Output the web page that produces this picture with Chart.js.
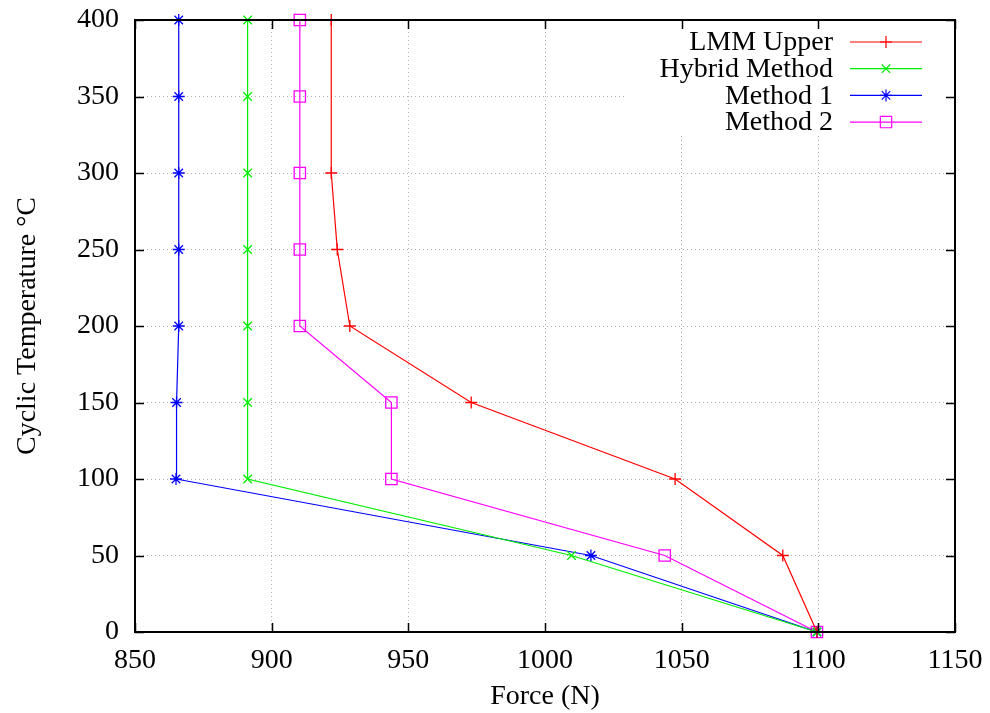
<!DOCTYPE html>
<html>
<head>
<meta charset="utf-8">
<script src="https://cdn.jsdelivr.net/npm/chart.js@4/dist/chart.umd.min.js"></script>
<style>
  html, body { margin: 0; padding: 0; background: #fff; }
  #wrap { width: 990px; height: 713px; }
</style>
</head>
<body>
<div id="wrap"><canvas id="myChart" width="990" height="713"></canvas></div>
<script>
// values
var lmmTemps = [0, 50, 100, 150, 200, 250, 300, 400];
var lmmForce = [1099.5, 1087, 1047.6, 973, 928.6, 924, 921.8, 921.8];

var temps = [0, 50, 100, 150, 200, 250, 300, 350, 400];
var hybridForce = [1099.5, 1009.7, 891.2, 891.2, 891.2, 891.2, 891.2, 891.2, 891.2];
var method1Force = [1099.5, 1016.8, 865, 865.2, 866, 866, 866, 866, 866];
var method2Force = [1099.5, 1043.8, 943.8, 943.8, 910.3, 910.3, 910.3, 910.3, 910.3];

var xTicks = [850, 900, 950, 1000, 1050, 1100, 1150];
var yTicks = [0, 50, 100, 150, 200, 250, 300, 350, 400];

var FONT = '"Liberation Serif", "DejaVu Serif", serif';

function toPoints(xs, ys) {
    return xs.map(function (x, i) { return { x: x, y: ys[i] }; });
}

function series(label, xs, ys, color, style) {
    return {
        label: label,
        data: toPoints(xs, ys),
        showLine: true,
        borderColor: color,
        backgroundColor: 'rgba(0,0,0,0)',
        borderWidth: 1.2,
        pointStyle: style,
        pointRadius: style === 'rect' ? 8 : 6,
        pointBorderColor: color,
        pointBorderWidth: 1.3,
        pointBackgroundColor: 'rgba(0,0,0,0)',
        clip: false
    };
}

var datasets = [
    series('LMM Upper', lmmForce, lmmTemps, '#ff0000', 'cross'),
    series('Hybrid Method', hybridForce, temps, '#00ee00', 'crossRot'),
    series('Method 1', method1Force, temps, '#0000ff', 'star'),
    series('Method 2', method2Force, temps, '#ff00ff', 'rect')
];

// gnuplot style key inside top right, white box over grid
var keyPlugin = {
    id: 'key',
    beforeDatasetsDraw: function (chart) {
        var c = chart.ctx;
        var area = chart.chartArea;
        c.save();
        c.fillStyle = '#fff';
        c.fillRect(624, area.top + 1, area.right - 625, 114);
        c.font = '28px ' + FONT;
        c.textAlign = 'right';
        c.textBaseline = 'middle';
        chart.data.datasets.forEach(function (ds, i) {
            var y = 42 + i * 26.7;
            c.fillStyle = '#000';
            c.fillText(ds.label, 833, y + 1);
            c.strokeStyle = ds.borderColor;
            c.lineWidth = 1.2;
            c.beginPath();
            c.moveTo(850, y);
            c.lineTo(922, y);
            c.stroke();
            c.fillStyle = 'rgba(0,0,0,0)';
            Chart.helpers.drawPoint(c, {
                pointStyle: ds.pointStyle,
                radius: ds.pointRadius,
                borderWidth: 1.3,
                rotation: 0
            }, 886, y);
        });
        c.restore();
    },
    afterDraw: function (chart) {
        var c = chart.ctx;
        var a = chart.chartArea;
        var xs = chart.scales.x, ys = chart.scales.y;
        c.save();
        c.strokeStyle = '#000';
        c.lineWidth = 1.5;
        c.beginPath();
        xTicks.forEach(function (v) {
            var px = Math.round(xs.getPixelForValue(v)) + 0.5;
            c.moveTo(px, a.bottom); c.lineTo(px, a.bottom - 9);
            c.moveTo(px, a.top); c.lineTo(px, a.top + 9);
        });
        yTicks.forEach(function (v) {
            var py = Math.round(ys.getPixelForValue(v)) + 0.5;
            c.moveTo(a.left, py); c.lineTo(a.left + 9, py);
            c.moveTo(a.right, py); c.lineTo(a.right - 9, py);
        });
        c.stroke();
        c.lineWidth = 2;
        c.strokeRect(a.left, a.top, a.right - a.left, a.bottom - a.top);
        c.restore();
    }
};

function gridColor(ends) {
    return function (c) {
        return (c.tick && ends.indexOf(c.tick.value) >= 0) ? 'rgba(0,0,0,0)' : '#b0b0b0';
    };
}

var ctx = document.getElementById('myChart');
var config = {
    type: 'scatter',
    data: { datasets: datasets },
    options: {
        responsive: false,
        animation: false,
        layout: { padding: { top: 20, right: 35, left: 0, bottom: 0 } },
        plugins: {
            legend: { display: false },
            tooltip: { enabled: false }
        },
        scales: {
            x: {
                type: 'linear',
                min: 850,
                max: 1150,
                afterFit: function (s) { s.height = 81; s.paddingLeft = 0; s.paddingRight = 0; },
                afterBuildTicks: function (s) { s.ticks = xTicks.map(function (v) { return { value: v }; }); },
                grid: { color: gridColor([850, 1150]), lineWidth: 1, drawTicks: false },
                border: { display: false, dash: [1, 3] },
                ticks: {
                    color: '#000', font: { family: FONT, size: 28 }, padding: 12, maxRotation: 0,
                    callback: function (v) { return String(v); }
                },
                title: { display: true, text: 'Force (N)', color: '#000', font: { family: FONT, size: 28 }, padding: { top: 10, bottom: 0 } }
            },
            y: {
                type: 'linear',
                min: 0,
                max: 400,
                afterFit: function (s) { s.width = 135; s.paddingTop = 0; s.paddingBottom = 0; },
                afterBuildTicks: function (s) { s.ticks = yTicks.map(function (v) { return { value: v }; }); },
                grid: { color: gridColor([0, 400]), lineWidth: 1, drawTicks: false },
                border: { display: false, dash: [1, 3] },
                ticks: {
                    color: '#000', font: { family: FONT, size: 28 }, padding: 16,
                    callback: function (v) { return String(v); }
                },
                title: { display: true, text: 'Cyclic Temperature °C', color: '#000', font: { family: FONT, size: 28 }, padding: { top: 11, bottom: 0 } }
            }
        }
    },
    plugins: [keyPlugin]
};
var currentChart = new Chart(ctx, config);
</script>
</body>
</html>
